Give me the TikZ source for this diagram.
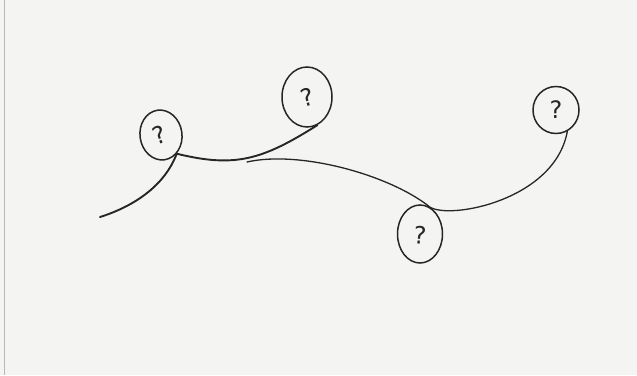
\documentclass[tikz,border=0pt]{standalone}
\usepackage{fontspec}
\setsansfont{DejaVu Sans}
\usetikzlibrary{shapes.geometric}
\definecolor{paper}{HTML}{F4F4F2}
\definecolor{pen}{HTML}{262626}
\definecolor{edge}{HTML}{B8B8B6}
\tikzset{
  bubble/.style={ellipse, draw=pen, line width=1.5pt, inner sep=0pt},
  mark glyph/.style={text=pen, inner sep=0pt,
    font=\sffamily\fontsize{24}{28}\selectfont},
  stroke/.style={draw=pen, line width=1.9pt, line cap=round},
  finestroke/.style={draw=pen, line width=1.3pt, line cap=round}
}
\begin{document}
\begin{tikzpicture}[x=1pt,y=-1pt]
  % sheet of paper
  \fill[paper] (0,0) rectangle (637,375);
  \useasboundingbox (0,0) rectangle (637,375);
  \draw[edge, line width=1.2pt] (4.5,0) -- (4.5,375);

  % the question bubbles
  \node[bubble, minimum width=42pt, minimum height=50pt, rotate=8] (q1) at (161,135) {};
  \node[bubble, minimum width=50pt, minimum height=60pt] (q2) at (307,97) {};
  \node[bubble, minimum width=45pt, minimum height=58pt] (q3) at (420,234) {};
  \node[bubble, minimum width=46pt, minimum height=47pt] (q4) at (556,110) {};
  \node[mark glyph, rotate=20] (m1) at ([xshift=-2pt]q1) {?};
  \node[mark glyph, rotate=15] (m2) at (q2) {?};
  \node[mark glyph, rotate=-5] (m3) at ([yshift=-1pt]q3) {?};
  \node[mark glyph] (m4) at (q4) {?};

  % loose ends of the strokes
  \coordinate (tail) at (100,217);
  \coordinate (hook) at (247,162);

  % first stroke: tail up into q1, then along and up into q2
  \draw[stroke] (tail) .. controls (135,206) and (165,185) .. (q1.-58);
  \draw[stroke] (q1.-58) .. controls (235,168) and (262,160) .. (q2.-70);

  % second stroke: from the hook over q3 and up to q4
  \draw[finestroke] (hook) .. controls (300,150) and (390,175) .. (q3.70)
    .. controls (450,220) and (555,200) .. (q4.-62);
\end{tikzpicture}
\end{document}
